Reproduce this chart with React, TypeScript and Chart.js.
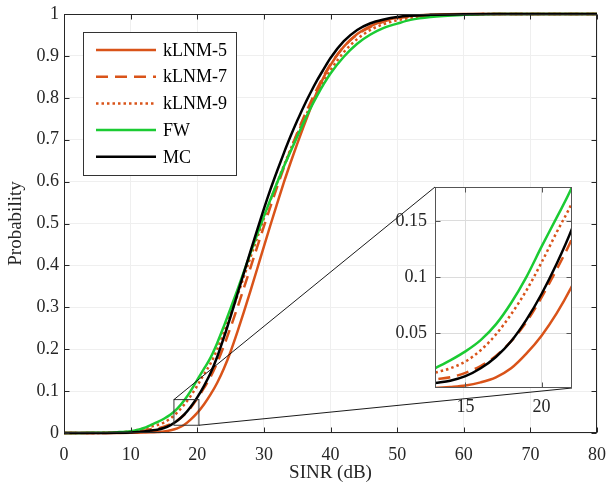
import React, { useEffect, useRef } from 'react';
import { Chart, registerables } from 'chart.js';

Chart.register(...registerables);

// ---------------- data ----------------
const SINR_DB = [0, 2, 4, 6, 8, 10, 11, 12, 13, 14, 15, 16, 17, 18, 19, 20, 21, 22, 23, 24, 25, 26, 27, 28, 29, 30, 31, 32, 33, 34, 35, 36, 37, 38, 39, 40, 42, 44, 46, 48, 50, 52, 55, 60, 65, 70, 75, 80];

const KLNM5 = [0, 0, 0, 0, 0.0001,
  0.0003, 0.0006, 0.001, 0.0015, 0.0024, 0.0037, 0.0065, 0.011, 0.019, 0.032,
  0.048, 0.068, 0.092, 0.12, 0.154, 0.194, 0.24, 0.289, 0.34, 0.392,
  0.445, 0.497, 0.548, 0.598, 0.645, 0.69, 0.733, 0.775, 0.815, 0.85,
  0.878,
  0.922, 0.952, 0.971, 0.984, 0.991, 0.995,
  0.998, 1, 1, 1, 1, 1];

const KLNM7 = [0, 0, 0, 0.0002, 0.0008,
  0.0025, 0.004, 0.006, 0.009, 0.011, 0.015, 0.021, 0.03, 0.043, 0.06,
  0.082, 0.107, 0.134, 0.168, 0.208, 0.252, 0.298, 0.346, 0.395, 0.444,
  0.493, 0.541, 0.588, 0.633, 0.676, 0.716, 0.754, 0.789, 0.822, 0.853,
  0.88,
  0.922, 0.951, 0.969, 0.982, 0.99, 0.994,
  0.997, 0.999, 1, 1, 1, 1];

const KLNM9 = [0, 0, 0.0001, 0.0004, 0.0015,
  0.004, 0.007, 0.0105, 0.015, 0.019, 0.025, 0.035, 0.049, 0.067, 0.088,
  0.113, 0.14, 0.166, 0.2, 0.24, 0.283, 0.327, 0.373, 0.42, 0.466,
  0.512, 0.556, 0.598, 0.638, 0.677, 0.713, 0.748, 0.781, 0.812, 0.84,
  0.866,
  0.909, 0.94, 0.962, 0.976, 0.985, 0.991,
  0.996, 0.999, 1, 1, 1, 1];

const FW = [0, 0.0001, 0.0003, 0.0008, 0.002,
  0.0045, 0.0075, 0.012, 0.019, 0.026, 0.034, 0.044, 0.058, 0.077, 0.1,
  0.127, 0.153, 0.18, 0.215, 0.255, 0.297, 0.34, 0.385, 0.43, 0.474,
  0.517, 0.558, 0.598, 0.636, 0.672, 0.707, 0.742, 0.775, 0.805, 0.833,
  0.858,
  0.898, 0.929, 0.951, 0.967, 0.977, 0.986,
  0.993, 0.998, 1, 1, 1, 1];

const MC = [0, 0, 0, 0.0001, 0.0004,
  0.0012, 0.0022, 0.0038, 0.006, 0.008, 0.012, 0.019, 0.029, 0.043, 0.062,
  0.085, 0.112, 0.143, 0.182, 0.228, 0.278, 0.33, 0.382, 0.434, 0.485,
  0.535, 0.582, 0.626, 0.668, 0.708, 0.745, 0.78, 0.812, 0.842, 0.869,
  0.895,
  0.935, 0.962, 0.978, 0.987, 0.993, 0.996,
  0.998, 0.9995, 1, 1, 1, 1];

const SERIES_LABELS = ['kLNM-5', 'kLNM-7', 'kLNM-9', 'FW', 'MC'];
const X_TICKS = [0, 10, 20, 30, 40, 50, 60, 70, 80];
const Y_TICKS = [0, 0.1, 0.2, 0.3, 0.4, 0.5, 0.6, 0.7, 0.8, 0.9, 1];
const INSET_X_TICKS = [15, 20];
const INSET_Y_TICKS = [0.05, 0.1, 0.15];
const INSET_X_RANGE = [13, 22];
const INSET_Y_RANGE = [0.0015, 0.18];
const ZOOM_X = [16.5, 20.25];
const ZOOM_Y = [0.0185, 0.0797];

// ---------------- styles / layout ----------------
const FONT = "'Liberation Serif', 'Times New Roman', serif";
const AXIS_COLOR = '#262626';
const STYLES = [
  { color: '#D95319', dash: [] as number[] },
  { color: '#D95319', dash: [12, 7] },
  { color: '#D95319', dash: [2.5, 3] },
  { color: '#1BCB33', dash: [] as number[] },
  { color: '#000000', dash: [] as number[] },
];
const INSET_BOX = { left: 435, top: 187, right: 572, bottom: 388 };
const INSET_CANVAS = { left: 370, top: 170, width: 230, height: 260 };

function makeDatasets(clip: number) {
  const series = [KLNM5, KLNM7, KLNM9, FW, MC];
  return series.map((vals, i) => ({
    label: SERIES_LABELS[i],
    data: SINR_DB.map((x, j) => ({ x, y: vals[j] })),
    borderColor: STYLES[i].color,
    borderDash: STYLES[i].dash,
    borderWidth: 2.5,
    borderCapStyle: 'butt',
    pointRadius: 0,
    fill: false,
    cubicInterpolationMode: 'monotone',
    order: series.length - 1 - i,
    clip,
  }));
}

function drawFrame(ctx: any, a: any, xs: any, ys: any, xt: number[], yt: number[], color: string, len: number) {
  ctx.save();
  ctx.strokeStyle = color;
  ctx.lineWidth = 1;
  ctx.setLineDash([]);
  const L = Math.round(a.left) + 0.5, R = Math.round(a.right) - 0.5;
  const T = Math.round(a.top) + 0.5, B = Math.round(a.bottom) - 0.5;
  ctx.beginPath();
  for (const v of xt) {
    const px = Math.round(xs.getPixelForValue(v)) + 0.5;
    ctx.moveTo(px, B); ctx.lineTo(px, B - len);
    ctx.moveTo(px, T); ctx.lineTo(px, T + len);
  }
  for (const v of yt) {
    const py = Math.round(ys.getPixelForValue(v)) + 0.5;
    ctx.moveTo(L, py); ctx.lineTo(L + len, py);
    ctx.moveTo(R, py); ctx.lineTo(R - len, py);
  }
  ctx.stroke();
  ctx.strokeRect(L, T, R - L, B - T);
  ctx.restore();
}

const mainExtras = {
  id: 'mainExtras',
  afterDatasetsDraw(chart: any) {
    const { ctx, chartArea: a, scales } = chart;
    const xs = scales.x, ys = scales.y;
    drawFrame(ctx, a, xs, ys, X_TICKS, Y_TICKS, AXIS_COLOR, 5);
    const x0 = xs.getPixelForValue(ZOOM_X[0]);
    const x1 = xs.getPixelForValue(ZOOM_X[1]);
    const y0 = ys.getPixelForValue(ZOOM_Y[1]);
    const y1 = ys.getPixelForValue(ZOOM_Y[0]);
    ctx.save();
    ctx.setLineDash([]);
    ctx.strokeStyle = '#333333';
    ctx.lineWidth = 1;
    ctx.strokeRect(x0, y0, x1 - x0, y1 - y0);
    ctx.strokeStyle = '#000000';
    ctx.lineWidth = 0.9;
    ctx.beginPath();
    ctx.moveTo(x0, y0); ctx.lineTo(INSET_BOX.left, INSET_BOX.top);
    ctx.moveTo(x1, y1); ctx.lineTo(INSET_BOX.right, INSET_BOX.bottom);
    ctx.stroke();
    ctx.restore();
  },
  afterDraw(chart: any) {
    const { ctx, chartArea: a } = chart;
    const bx = a.left + 19, by = a.top + 18, bw = 153, bh = 143;
    ctx.save();
    ctx.fillStyle = '#ffffff';
    ctx.fillRect(bx, by, bw, bh);
    ctx.strokeStyle = '#333333';
    ctx.lineWidth = 1;
    ctx.setLineDash([]);
    ctx.strokeRect(Math.round(bx) + 0.5, Math.round(by) + 0.5, bw, bh);
    ctx.font = `18px ${FONT}`;
    ctx.textBaseline = 'middle';
    ctx.textAlign = 'left';
    chart.data.datasets.forEach((ds: any, i: number) => {
      const cy = by + 18 + i * 26.7;
      ctx.strokeStyle = ds.borderColor;
      ctx.lineWidth = ds.borderWidth;
      ctx.lineCap = 'butt';
      ctx.setLineDash(ds.borderDash || []);
      ctx.beginPath();
      ctx.moveTo(bx + 13, cy);
      ctx.lineTo(bx + 73, cy);
      ctx.stroke();
      ctx.setLineDash([]);
      ctx.fillStyle = '#000000';
      ctx.fillText(ds.label, bx + 80, cy + 1);
    });
    ctx.restore();
  },
};

const insetExtras = {
  id: 'insetExtras',
  beforeDraw(chart: any) {
    const { ctx, chartArea: a } = chart;
    ctx.save();
    ctx.fillStyle = '#ffffff';
    ctx.fillRect(a.left, a.top, a.right - a.left, a.bottom - a.top);
    ctx.restore();
  },
  afterDatasetsDraw(chart: any) {
    const { ctx, chartArea: a, scales } = chart;
    drawFrame(ctx, a, scales.x, scales.y, INSET_X_TICKS, INSET_Y_TICKS, '#555555', 5);
  },
};

function fixHorizontal(h: number) {
  return (s: any) => { s.height = h; s.paddingLeft = 0; s.paddingRight = 0; };
}
function fixVertical(w: number) {
  return (s: any) => { s.width = w; s.paddingTop = 0; s.paddingBottom = 0; };
}

export default function App() {
  const mainRef = useRef<HTMLCanvasElement | null>(null);
  const insetRef = useRef<HTMLCanvasElement | null>(null);

  useEffect(() => {
    if (!mainRef.current || !insetRef.current) return;
    const tickFont = { family: FONT, size: 18 };
    const titleFont = { family: FONT, size: 19 };

    const main = new Chart(mainRef.current, {
      type: 'line',
      data: { datasets: makeDatasets(2) as any },
      options: {
        animation: false,
        responsive: false,
        devicePixelRatio: 1,
        events: [],
        layout: { padding: { top: 14, right: 11, left: 0, bottom: 0 } },
        plugins: { legend: { display: false }, tooltip: { enabled: false } },
        scales: {
          x: {
            type: 'linear', min: 0, max: 80,
            afterBuildTicks: (s: any) => { s.ticks = X_TICKS.map((v) => ({ value: v })); },
            afterFit: fixHorizontal(50),
            grid: { color: '#efefef', drawTicks: false },
            border: { display: false },
            ticks: { color: AXIS_COLOR, font: tickFont, padding: 11.5, maxRotation: 0, autoSkip: false, callback: (v: any) => String(v) },
            title: { display: true, text: 'SINR (dB)', color: AXIS_COLOR, font: titleFont, padding: { top: 0, bottom: -1.5 } },
          },
          y: {
            type: 'linear', min: 0, max: 1,
            afterBuildTicks: (s: any) => { s.ticks = Y_TICKS.map((v) => ({ value: v })); },
            afterFit: fixVertical(64),
            grid: { color: '#efefef', drawTicks: false },
            border: { display: false },
            ticks: { color: AXIS_COLOR, font: tickFont, padding: 5, autoSkip: false, callback: (v: any) => String(Math.round(v * 10) / 10) },
            title: { display: true, text: 'Probability', color: AXIS_COLOR, font: titleFont, padding: { top: 5, bottom: 0 } },
          },
        },
      } as any,
      plugins: [mainExtras],
    });

    const inset = new Chart(insetRef.current, {
      type: 'line',
      data: { datasets: makeDatasets(0) as any },
      options: {
        animation: false,
        responsive: false,
        devicePixelRatio: 1,
        events: [],
        layout: {
          padding: {
            top: INSET_BOX.top - INSET_CANVAS.top,
            right: INSET_CANVAS.left + INSET_CANVAS.width - INSET_BOX.right,
            left: 0, bottom: 0,
          },
        },
        plugins: { legend: { display: false }, tooltip: { enabled: false } },
        scales: {
          x: {
            type: 'linear', min: INSET_X_RANGE[0], max: INSET_X_RANGE[1],
            afterBuildTicks: (s: any) => { s.ticks = INSET_X_TICKS.map((v) => ({ value: v })); },
            afterFit: fixHorizontal(INSET_CANVAS.top + INSET_CANVAS.height - INSET_BOX.bottom),
            grid: { color: '#dcdcdc', drawTicks: false },
            border: { display: false },
            ticks: { color: AXIS_COLOR, font: tickFont, padding: 8.5, maxRotation: 0, autoSkip: false, callback: (v: any) => String(v) },
          },
          y: {
            type: 'linear', min: INSET_Y_RANGE[0], max: INSET_Y_RANGE[1],
            afterBuildTicks: (s: any) => { s.ticks = INSET_Y_TICKS.map((v) => ({ value: v })); },
            afterFit: fixVertical(INSET_BOX.left - INSET_CANVAS.left),
            grid: { color: '#dcdcdc', drawTicks: false },
            border: { display: false },
            ticks: { color: AXIS_COLOR, font: tickFont, padding: 8, autoSkip: false, callback: (v: any) => String(v) },
          },
        },
      } as any,
      plugins: [insetExtras],
    });

    return () => { main.destroy(); inset.destroy(); };
  }, []);

  return (
    <div style={{ position: 'fixed', left: 0, top: 0, width: 608, height: 483, background: '#ffffff', overflow: 'hidden' }}>
      <canvas ref={mainRef} width={608} height={483} style={{ position: 'absolute', left: 0, top: 0, width: 608, height: 483 }} />
      <canvas
        ref={insetRef}
        width={INSET_CANVAS.width}
        height={INSET_CANVAS.height}
        style={{ position: 'absolute', left: INSET_CANVAS.left, top: INSET_CANVAS.top, width: INSET_CANVAS.width, height: INSET_CANVAS.height }}
      />
    </div>
  );
}
